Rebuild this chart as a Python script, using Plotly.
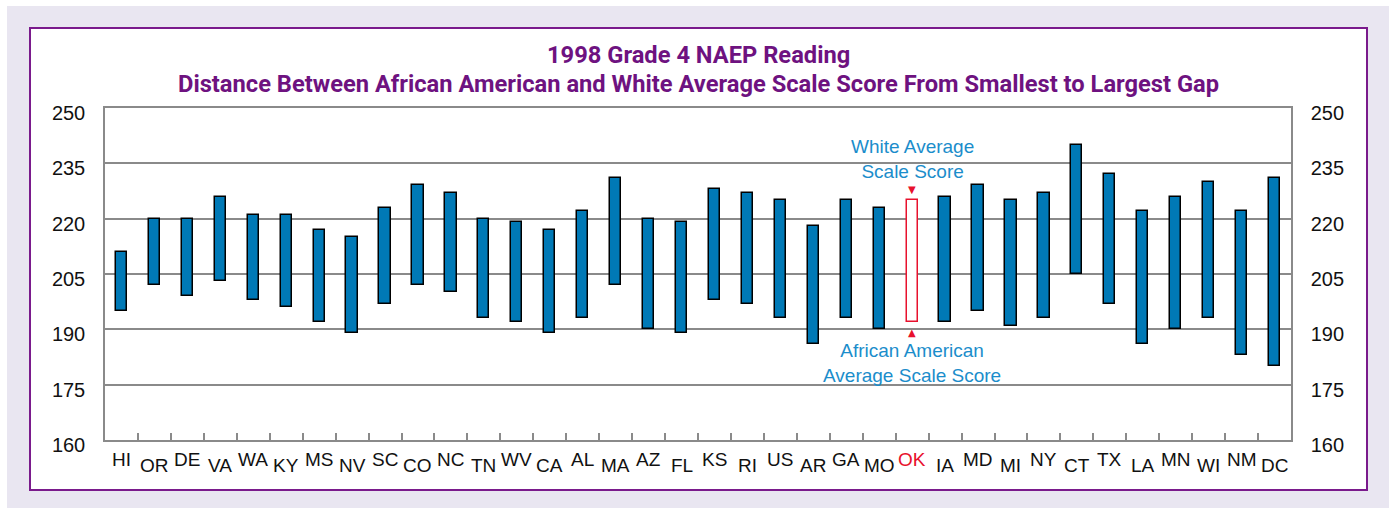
import plotly.graph_objects as go

# ---------------- data ----------------
states = ["HI", "OR", "DE", "VA", "WA", "KY", "MS", "NV", "SC", "CO", "NC", "TN",
          "WV", "CA", "AL", "MA", "AZ", "FL", "KS", "RI", "US", "AR", "GA", "MO",
          "OK", "IA", "MD", "MI", "NY", "CT", "TX", "LA", "MN", "WI", "NM", "DC"]
white_avg = [211, 220, 220, 226, 221, 221, 217, 215, 223, 229, 227, 220,
             219, 217, 222, 231, 220, 219, 228, 227, 225, 218, 225, 223,
             225, 226, 229, 225, 227, 240, 232, 222, 226, 230, 222, 231]
black_avg = [195, 202, 199, 203, 198, 196, 192, 189, 197, 202, 200, 193,
             192, 189, 193, 202, 190, 189, 198, 197, 193, 186, 193, 190,
             192, 192, 195, 191, 193, 205, 197, 186, 190, 193, 183, 180]
highlight = "OK"
y_ticks = [160, 175, 190, 205, 220, 235, 250]
title_line1 = "1998 Grade 4 NAEP Reading"
title_line2 = "Distance Between African American and White Average Scale Score From Smallest to Largest Gap"
note_white = "White Average<br>Scale Score"
note_black = "African American<br>Average Scale Score"

# ---------------- styles ----------------
W, H = 1394, 508
ML, MR, MT, MB = 105, 103, 108, 68
PW, PH = W - ML - MR, H - MT - MB
BAR = "#0079b6"
RED = "#e8112d"
NOTE = "#1b8dcb"
PURPLE = "#6e1280"
FRAME = "#7a1a8c"
LAV = "#e9e6f1"
GRID = "#8a8a8a"
TITLEFONT = "Roboto, Liberation Sans Narrow, sans-serif"
SANS = "Liberation Sans, Arial, sans-serif"


def px_x(p):
    return (p - ML) / PW


def px_y(p):
    return (H - MB - p) / PH


hi_idx = states.index(highlight)
fills = ["white" if s == highlight else BAR for s in states]
lines = [RED if s == highlight else "black" for s in states]
gaps = [w - b for w, b in zip(white_avg, black_avg)]

fig = go.Figure()
fig.add_trace(go.Bar(
    x=states, y=gaps, base=black_avg, width=0.34,
    marker=dict(color=fills, line=dict(color=lines, width=1.5)),
    showlegend=False, hoverinfo="skip",
))
# invisible trace so the right-hand axis is drawn
fig.add_trace(go.Scatter(x=[states[0]], y=[white_avg[0]], yaxis="y2", mode="markers",
                         marker=dict(opacity=0), showlegend=False, hoverinfo="skip"))

shapes = [
    dict(type="rect", xref="paper", yref="paper", layer="below",
         x0=px_x(7), x1=px_x(1389), y0=px_y(508), y1=px_y(6),
         fillcolor=LAV, line=dict(width=0)),
    dict(type="rect", xref="paper", yref="paper", layer="below",
         x0=px_x(30), x1=px_x(1367), y0=px_y(490), y1=px_y(28),
         fillcolor="white", line=dict(color=FRAME, width=2)),
]

annotations = [
    dict(text=title_line1, x=0.5, y=px_y(55), xref="paper", yref="paper",
         showarrow=False, xanchor="center", yanchor="middle",
         font=dict(family=TITLEFONT, size=23.7, color=PURPLE, weight="bold")),
    dict(text=title_line2, x=0.5, y=px_y(84), xref="paper", yref="paper",
         showarrow=False, xanchor="center", yanchor="middle",
         font=dict(family=TITLEFONT, size=23.7, color=PURPLE, weight="bold")),
    dict(text=note_white, x=highlight, y=white_avg[hi_idx], xref="x", yref="y",
         showarrow=False, xanchor="center", yanchor="bottom", yshift=16,
         font=dict(family=SANS, size=19, color=NOTE)),
    dict(text=note_black, x=highlight, y=black_avg[hi_idx], xref="x", yref="y",
         showarrow=False, xanchor="center", yanchor="top", yshift=-16,
         font=dict(family=SANS, size=19, color=NOTE)),
    dict(text="▼", x=highlight, y=white_avg[hi_idx], xref="x", yref="y",
         showarrow=False, xanchor="center", yanchor="bottom", yshift=3,
         font=dict(family="DejaVu Sans", size=10, color=RED)),
    dict(text="▲", x=highlight, y=black_avg[hi_idx], xref="x", yref="y",
         showarrow=False, xanchor="center", yanchor="top", yshift=-3,
         font=dict(family="DejaVu Sans", size=10, color=RED)),
]
for i, s in enumerate(states):
    annotations.append(dict(
        text=s, x=s, y=0, xref="x", yref="paper", showarrow=False,
        xanchor="center", yanchor="top", yshift=-7 if i % 2 == 0 else -13,
        font=dict(family=SANS, size=19, color=RED if s == highlight else "#111111"),
    ))

yax = dict(range=[160, 250], tickvals=y_ticks, showgrid=True, gridcolor=GRID,
           gridwidth=1.5, zeroline=False, showline=True, linecolor=GRID,
           linewidth=1.5, ticks="", tickfont=dict(family=SANS, size=20, color="#111111"),
           ticklabelstandoff=14, ticklabelshift=5, fixedrange=True)

fig.update_layout(
    width=W, height=H,
    margin=dict(l=ML, r=MR, t=MT, b=MB, pad=0),
    paper_bgcolor="white", plot_bgcolor="white",
    bargap=0,
    xaxis=dict(type="category", range=[-0.5, len(states) - 0.5], showticklabels=False,
               ticks="inside", tickson="boundaries", ticklen=7, tickcolor=GRID, tickwidth=1.5,
               showline=True, linecolor=GRID, linewidth=1.5, mirror=True,
               showgrid=False, zeroline=False, fixedrange=True),
    yaxis=dict(**yax, mirror=True, side="left"),
    yaxis2=dict(**yax, overlaying="y", side="right"),
    shapes=shapes,
    annotations=annotations,
)

fig.write_html("out.html", config={"displayModeBar": False},
               post_script="document.body.style.margin='0';")
